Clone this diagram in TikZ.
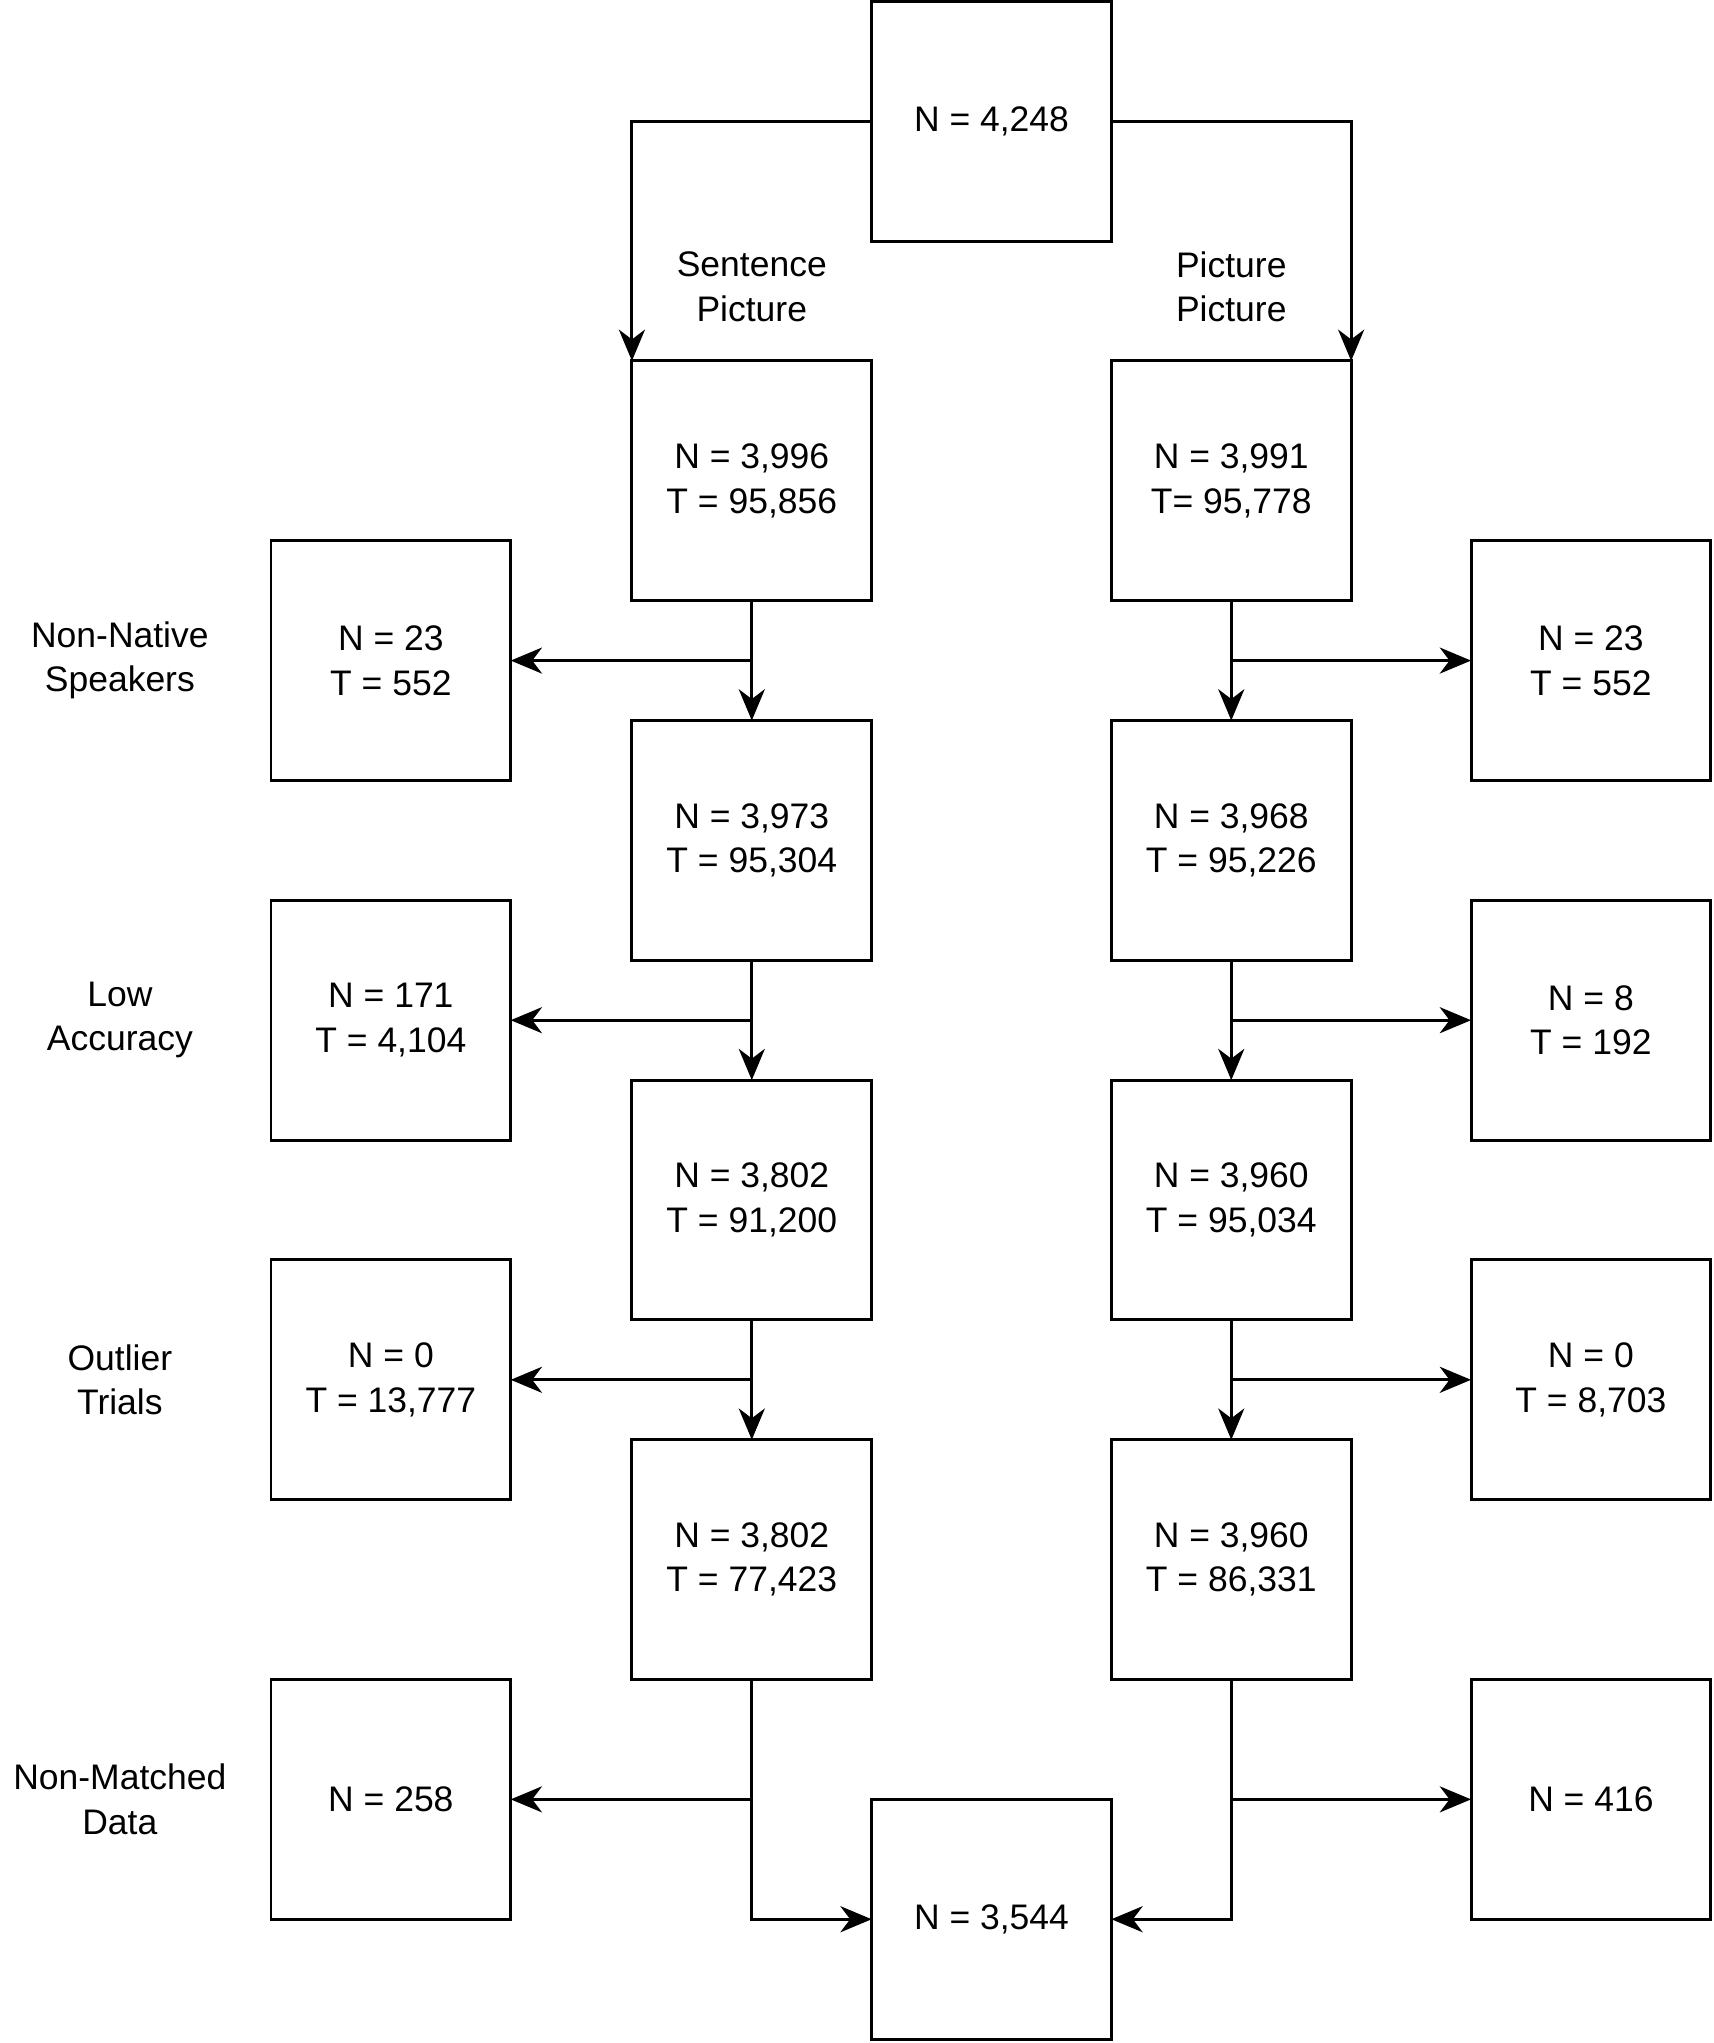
\documentclass[tikz,border=0pt]{standalone}
\usepackage{fontspec}
\setmainfont{Liberation Sans}
\usetikzlibrary{positioning}
\usetikzlibrary{arrows.meta}

\begin{document}
\begin{tikzpicture}[>={Stealth[length=4.8mm,width=4mm,inset=1.5mm]}, line width=1.3pt,
        node distance=5.52cm, on grid,
        every node/.style={font=\fontsize{15.5}{19.4}\selectfont},
        box/.style={draw, minimum width=3.68cm, minimum height=3.68cm, align=center, inner sep=0pt, outer sep=0pt},
        lbl/.style={align=center}]

        \useasboundingbox (-15.22,1.86) rectangle (11.08,-29.5);

        \node[box] (top) {N = 4,248};

        % sentence picture column
        \node[box] (s1) [below left=5.52cm and 3.68cm of top] {N = 3,996\\T = 95,856};
        \node[box] (s2) [below=of s1] {N = 3,973\\T = 95,304};
        \node[box] (s3) [below=of s2] {N = 3,802\\T = 91,200};
        \node[box] (s4) [below=of s3] {N = 3,802\\T = 77,423};

        % picture picture column
        \node[box] (p1) [right=7.36cm of s1] {N = 3,991\\T= 95,778};
        \node[box] (p2) [below=of p1] {N = 3,968\\T = 95,226};
        \node[box] (p3) [below=of p2] {N = 3,960\\T = 95,034};
        \node[box] (p4) [below=of p3] {N = 3,960\\T = 86,331};

        \node[box] (fin) [below right=5.52cm and 3.68cm of s4] {N = 3,544};

        \node[lbl] (sp) [above=2.98cm of s1] {Sentence\\Picture};
        \node[lbl] (pp) [above=2.98cm of p1] {Picture\\Picture};

        % removed, left side
        \node[box] (l1) [below left=2.76cm and 5.54cm of s1] {N = 23\\T = 552};
        \node[box] (l2) [below left=2.76cm and 5.54cm of s2] {N = 171\\T = 4,104};
        \node[box] (l3) [below left=2.76cm and 5.54cm of s3] {N = 0\\T = 13,777};
        \node[box] (l4) [below left=3.68cm and 5.54cm of s4] {N = 258};

        % removed, right side
        \node[box] (r1) [below right=2.76cm and 5.52cm of p1] {N = 23\\T = 552};
        \node[box] (r2) [below right=2.76cm and 5.52cm of p2] {N = 8\\T = 192};
        \node[box] (r3) [below right=2.76cm and 5.52cm of p3] {N = 0\\T = 8,703};
        \node[box] (r4) [below right=3.68cm and 5.52cm of p4] {N = 416};

        \node[lbl] (t1) [left=4.16cm of l1] {Non-Native\\Speakers};
        \node[lbl] (t2) [left=4.16cm of l2] {Low\\Accuracy};
        \node[lbl] (t3) [left=4.16cm of l3] {Outlier\\Trials};
        \node[lbl] (t4) [left=4.16cm of l4] {Non-Matched\\Data};

        \draw[->] (top.west) -| (s1.north west);
        \draw[->] (top.east) -| (p1.north east);

        \path[->]
          (s1) edge [] node[] {} (s2)
          (s2) edge [] node[] {} (s3)
          (s3) edge [] node[] {} (s4)
          (p1) edge [] node[] {} (p2)
          (p2) edge [] node[] {} (p3)
          (p3) edge [] node[] {} (p4)

          (s1 |- l1) edge [] node[] {} (l1)
          (s2 |- l2) edge [] node[] {} (l2)
          (s3 |- l3) edge [] node[] {} (l3)
          (s4 |- l4) edge [] node[] {} (l4)
          (p1 |- r1) edge [] node[] {} (r1)
          (p2 |- r2) edge [] node[] {} (r2)
          (p3 |- r3) edge [] node[] {} (r3)
          (p4 |- r4) edge [] node[] {} (r4);

        \draw[->] (s4) |- (fin);
        \draw[->] (p4) |- (fin);

      \end{tikzpicture}
\end{document}
